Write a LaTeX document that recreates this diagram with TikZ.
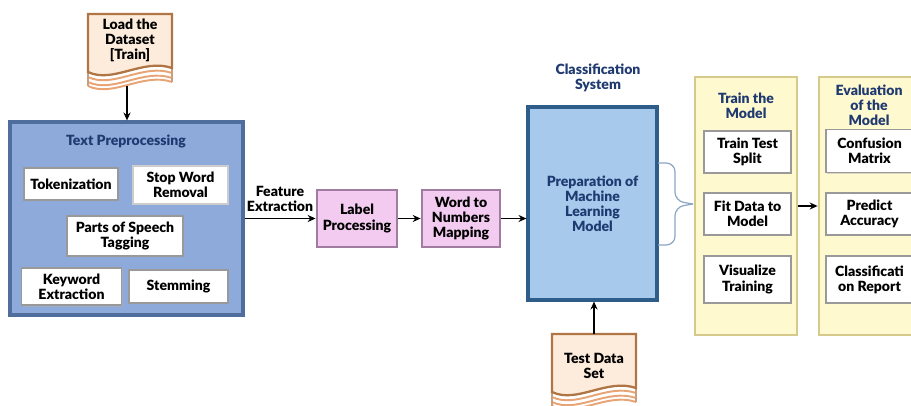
\documentclass[tikz,border=0pt]{standalone}
\usepackage{fontspec}
\setmainfont{Lato}[BoldFont={Lato Black}]
\usetikzlibrary{arrows.meta,shadows}
\definecolor{tpfill}{HTML}{8EAADB}
\definecolor{tpedge}{HTML}{4F6E9E}
\definecolor{navy}{HTML}{1F3A70}
\definecolor{pinkfill}{HTML}{F3CBF0}
\definecolor{pinkedge}{HTML}{A07DA0}
\definecolor{mlfill}{HTML}{A6C9EC}
\definecolor{mledge}{HTML}{2F5D8A}
\definecolor{colfill}{HTML}{FFF9CF}
\definecolor{coledge}{HTML}{D6C98C}
\definecolor{paper}{HTML}{FDECDB}
\definecolor{paperedge}{HTML}{B07545}
\definecolor{paperline}{HTML}{E8A474}
\definecolor{bracec}{HTML}{8DA6C4}

% page with a wavy foot, top-left corner at (#1,#2), 84 x 72 px
\newcommand{\paperdoc}[2]{%
  \begin{scope}[shift={(#1,#2)}]
    \fill[white] (0,58) .. controls (25,70) and (55,44) .. (84,54)
      -- (84,68) .. controls (55,58) and (25,84) .. (0,72) -- cycle;
    \foreach \o in {5,10,14}{
      \draw[paperline,line width=1.1pt] (0,58+\o) .. controls (25,70+\o) and (55,44+\o) .. (84,54+\o);
    }
    \draw[paperedge!70,line width=0.8pt] (0,58) -- (0,72) (84,54) -- (84,68);
    \filldraw[fill=paper,draw=paperedge,line width=1.3pt]
      (0,0) -- (84,0) -- (84,54) .. controls (55,44) and (25,70) .. (0,58) -- cycle;
  \end{scope}}

\begin{document}
\begin{tikzpicture}[
  x=0.02cm,y=-0.02cm,
  font=\bfseries\fontsize{8}{8.6}\selectfont,
  arr/.style={-{Stealth[length=4.5pt,width=4pt]},line width=0.9pt,black},
  panelbox/.style={draw=tpedge,line width=1.8pt,fill=tpfill},
  itembox/.style={draw=black!40,line width=1pt,fill=white,align=center,
                  drop shadow={shadow xshift=0.8pt,shadow yshift=-0.8pt,fill=black!30}},
  pinkbox/.style={draw=pinkedge,line width=1.6pt,fill=pinkfill,align=center,
                  minimum width=78*0.02cm,minimum height=57*0.02cm},
  colbox/.style={draw=coledge,line width=1.6pt,fill=colfill,
                 minimum width=102*0.02cm,minimum height=258*0.02cm},
  title/.style={text=navy,align=center},
  sz/.style 2 args={minimum width=#1*0.02cm,minimum height=#2*0.02cm},
]
\useasboundingbox (0,0) rectangle (911,405);

% ============================ TRAIN DATA ============================
\paperdoc{88}{14}
\node[align=center] (load) at (130,40) {Load the\\Dataset\\{[Train]}};
\coordinate (loadfoot) at (127,86);

% ============================ TEXT PREPROCESSING ============================
\node[panelbox,sz={233}{193}] (prep) at (126.5,218.5) {};
\node[title] (preptitle) at (126,141) {Text Preprocessing};
\draw[arr] (loadfoot) -- (loadfoot |- prep.north);

\node[itembox,sz={94}{32}]  (tok)  at (71,184)    {Tokenization};
\node[itembox,sz={95}{34},draw=black!20] (stop) at (180.5,185) {Stop Word\\Removal};
\node[itembox,sz={116}{38}] (pos)  at (125,236)   {Parts of Speech\\Tagging};
\node[itembox,sz={100}{33}] (kw)   at (71.5,286.5) {Keyword\\Extraction};
\node[itembox,sz={99}{33}]  (stem) at (178.5,286.5) {Stemming};

% ============================ FEATURE CHAIN ============================
\node[align=center] (feat) at (280,199) {Feature\\Extraction};
\node[pinkbox] (label) at (357,218.5) {Label\\Processing};
\node[pinkbox] (w2n)   at (461,218.5) {Word to\\Numbers\\Mapping};
\draw[arr] (prep.east) -- (label.west);
\draw[arr] (label.east) -- (w2n.west);

% ============================ CLASSIFICATION SYSTEM ============================
\node[title] (cstitle) at (598,78) {Classification\\System};
\node[draw=mledge,line width=1.8pt,fill=mlfill,sz={129}{193},title] (ml) at (592.5,203.5)
  {Preparation of\\Machine\\Learning\\Model};
\draw[arr] (w2n.east) -- (w2n.east -| ml.west);

\paperdoc{552}{334}
\node[align=center] (test) at (594,366) {Test Data\\Set};
\coordinate (testtop) at (594,334);
\draw[arr] (testtop) -- (testtop |- ml.south);

% brace towards the training column
\draw[bracec,line width=0.7pt,rounded corners=5] (658,163) -- (675,163) -- (675,201) -- (693,204);
\draw[bracec,line width=0.7pt,rounded corners=5] (693,204) -- (675,207) -- (675,245) -- (658,245);

% ============================ TRAIN / EVALUATE ============================
\node[colbox] (train) at (746,206) {};
\node[title] (traintitle) at (746,106) {Train the\\Model};
\node[colbox] (eval) at (870,206) {};
\node[title] (evaltitle) at (869,105) {Evaluation\\of the\\Model};

\foreach \n/\y/\h/\t in {split/152/42/{Train Test\\Split},
                         fit/214/42/{Fit Data to\\Model},
                         vis/279.5/47/{Visualize\\Training}}{
  \node[itembox,sz={87}{\h}] (\n) at (747.5,\y) {\t};
}
\foreach \n/\y/\h/\t in {conf/151/43/{Confusion\\Matrix},
                         acc/214/42/{Predict\\Accuracy},
                         rep/279.5/47/{Classificati\\on Report}}{
  \node[itembox,sz={87}{\h}] (\n) at (869.5,\y) {\t};
}
\draw[arr] (train.east) -- (eval.west);

\end{tikzpicture}
\end{document}
